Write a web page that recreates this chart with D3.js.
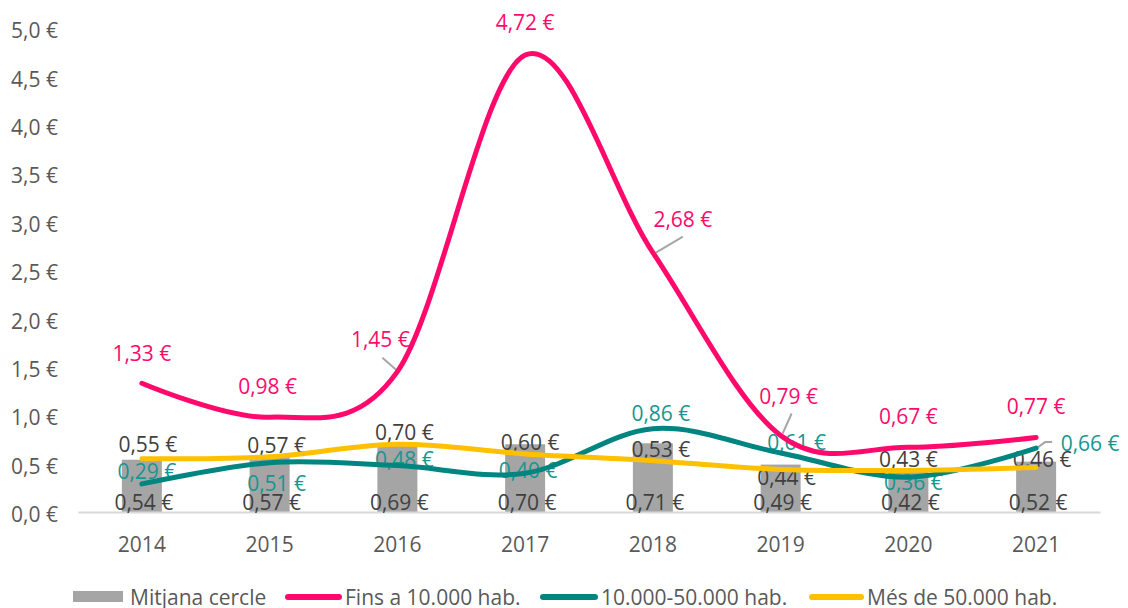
<!DOCTYPE html>
<html>
<head>
<meta charset="utf-8">
<script src="https://cdn.jsdelivr.net/npm/d3@7"></script>
<style>
  html, body { margin: 0; padding: 0; background: #fff; }
  svg { display: block; font-family: "Open Sans", "Noto Sans", sans-serif; }
</style>
</head>
<body>
<svg id="chart" width="1128" height="608"></svg>
<script>
// Categories and series (€ per inhabitant)
const years = ["2014", "2015", "2016", "2017", "2018", "2019", "2020", "2021"];
const mitjanaCercle = [0.54, 0.57, 0.69, 0.70, 0.71, 0.49, 0.42, 0.52];
const fins10000 = [1.33, 0.98, 1.45, 4.72, 2.68, 0.79, 0.67, 0.77];
const de10000a50000 = [0.29, 0.51, 0.48, 0.40, 0.86, 0.61, 0.36, 0.66];
const mesDe50000 = [0.55, 0.57, 0.70, 0.60, 0.53, 0.44, 0.43, 0.46];
const yTickValues = [0, 0.5, 1, 1.5, 2, 2.5, 3, 3.5, 4, 4.5, 5];
const legendNames = ["Mitjana cercle", "Fins a 10.000 hab.", "10.000-50.000 hab.", "Més de 50.000 hab."];

// Layout
const W = 1128, H = 608;
const plot = { left: 78, right: 1100, top: 28, bottom: 512 };
const colors = { bar: "#A5A5A5", pink: "#FF0A6C", teal: "#008580", yellow: "#FFC000" };
const labelColors = { bar: "#404040", pink: "#FF0A6C", teal: "#16968F", yellow: "#404040" };

// Label placement (offsets in px from each point: [dx, dy] to the label centre)
const pinkOffsets = [[0, -30], [-2, -31], [-17, -32], [0, -33], [30, -33], [8, -39], [0, -31], [0, -31]];
const tealOffsets = [[5, -12], [7, 21], [7, -6], [3, -3], [8, -15], [16, -11], [5, 5], [54, -5]];
const yellowOffsets = [[6, -14], [7, -11], [7, -12], [5, -11], [8, -11], [6, 8], [0, -11], [6, -8]];

const fmt = v => d3.format(".2f")(v).replace(".", ",") + " €";
const fmtTick = v => d3.format(".1f")(v).replace(".", ",") + " €";

const svg = d3.select("#chart");

const x = d3.scaleBand().domain(years).range([plot.left, plot.right]).paddingInner(0).paddingOuter(0);
const y = d3.scaleLinear().domain([0, 5]).range([plot.bottom, plot.top]);
const cx = d => x(d) + x.bandwidth() / 2;

// Y axis labels (no axis line, no gridlines)
const yAxis = d3.axisLeft(y).tickValues(yTickValues).tickFormat(fmtTick).tickSize(0).tickPadding(0);
const gy = svg.append("g").attr("transform", "translate(58,3)").call(yAxis);
gy.select(".domain").remove();
gy.selectAll("text").attr("fill", "#595959").style("font-size", "21px").style("font-family", "'Open Sans', sans-serif");

// X axis: baseline and year labels
const xAxis = d3.axisBottom(x).tickSize(0).tickPadding(0);
const gx = svg.append("g").attr("transform", `translate(0,${plot.bottom})`).call(xAxis);
gx.select(".domain").attr("stroke", "#D9D9D9").attr("stroke-width", 2);
gx.selectAll("text").attr("fill", "#595959").attr("dy", 0).attr("y", 40)
  .style("font-size", "21px").style("font-family", "'Open Sans', sans-serif");

// Bars: Mitjana cercle
const barW = 40;
svg.append("g").selectAll("rect").data(years).join("rect")
  .attr("x", d => cx(d) - barW / 2)
  .attr("width", barW)
  .attr("y", (d, i) => y(mitjanaCercle[i]))
  .attr("height", (d, i) => y(0) - y(mitjanaCercle[i]))
  .attr("fill", colors.bar);
gx.raise();

// Data labels
function labels(values, offsets, color, fixedY) {
  svg.append("g").selectAll("text").data(values).join("text")
    .attr("x", (v, i) => cx(years[i]) + offsets[i][0])
    .attr("y", (v, i) => (fixedY != null ? fixedY : y(v) + offsets[i][1]))
    .attr("dy", "0.36em")
    .attr("text-anchor", "middle")
    .attr("fill", color)
    .style("font-size", "21px")
    .text(fmt);
}
labels(mitjanaCercle, years.map(() => [2, 0]), labelColors.bar, 502);
labels(fins10000, pinkOffsets, labelColors.pink);
labels(de10000a50000, tealOffsets, labelColors.teal);
labels(mesDe50000, yellowOffsets, labelColors.yellow);

// Leader lines for displaced labels
const leaders = [
  { values: fins10000, i: 2, path: [[-15, -14], [1, 0]] },
  { values: fins10000, i: 4, path: [[30, -16], [3, 0]] },
  { values: fins10000, i: 5, path: [[11, -22], [2, -2]] },
  { values: de10000a50000, i: 7, path: [[16, -6], [9, -6], [2, -1]] }
];
const leaderLine = d3.line();
svg.append("g").selectAll("path").data(leaders).join("path")
  .attr("d", l => leaderLine(l.path.map(([dx, dy]) => [cx(years[l.i]) + dx, y(l.values[l.i]) + dy])))
  .attr("fill", "none").attr("stroke", "#A6A6A6").attr("stroke-width", 2);

// Smoothed lines
const line = d3.line()
  .x((v, i) => cx(years[i]))
  .y(v => y(v))
  .curve(d3.curveCardinal.tension(0));
[[fins10000, colors.pink], [de10000a50000, colors.teal], [mesDe50000, colors.yellow]].forEach(([vals, c]) => {
  svg.append("path").datum(vals)
    .attr("d", line)
    .attr("fill", "none")
    .attr("stroke", c)
    .attr("stroke-width", 5)
    .attr("stroke-linecap", "round")
    .attr("stroke-linejoin", "round");
});

// Legend
const legendItems = [
  { name: legendNames[0], type: "rect", color: colors.bar, x0: 73, x1: 123, tx: 130 },
  { name: legendNames[1], type: "line", color: colors.pink, x0: 288, x1: 339, tx: 345 },
  { name: legendNames[2], type: "line", color: colors.teal, x0: 543, x1: 595, tx: 601 },
  { name: legendNames[3], type: "line", color: colors.yellow, x0: 812, x1: 861, tx: 867 }
];
const lg = svg.append("g");
legendItems.forEach(it => {
  if (it.type === "rect") {
    lg.append("rect").attr("x", it.x0).attr("y", 591).attr("width", it.x1 - it.x0).attr("height", 11).attr("fill", it.color);
  } else {
    lg.append("line").attr("x1", it.x0).attr("x2", it.x1).attr("y1", 597).attr("y2", 597)
      .attr("stroke", it.color).attr("stroke-width", 6).attr("stroke-linecap", "round");
  }
  lg.append("text").attr("x", it.tx).attr("y", 597).attr("dy", "0.36em")
    .attr("fill", "#595959").style("font-size", "21px").text(it.name);
});
</script>
</body>
</html>
